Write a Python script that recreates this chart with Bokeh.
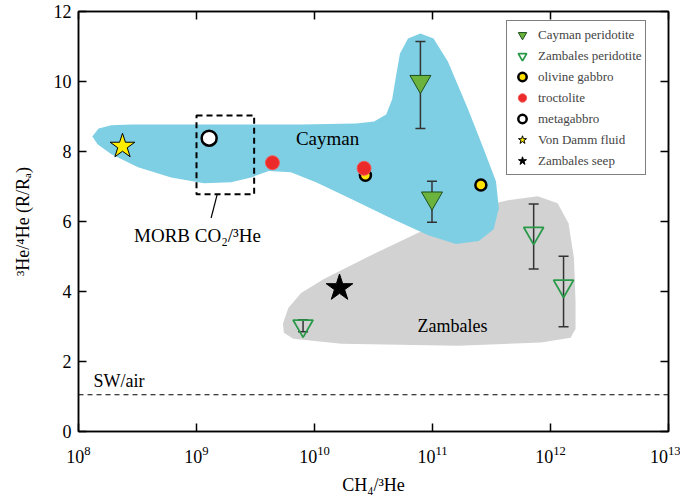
import numpy as np
from bokeh.plotting import figure
from bokeh.models import (Range1d, LinearAxis, LogAxis, FixedTicker, Legend, LegendItem,
                          Label, Span, CustomJSTickFormatter, LogTickFormatter)
from bokeh.embed import file_html
from bokeh.resources import INLINE

# ---------------- data ----------------
x_ticks = [1e8, 1e9, 1e10, 1e11, 1e12, 1e13]
y_ticks = [0, 2, 4, 6, 8, 10, 12]

cay_perid_x = [7.9e10, 9.9e10]
cay_perid_y = [10.0, 6.67]
cay_perid_lo = [8.66, 5.98]
cay_perid_hi = [11.14, 7.15]

zam_perid_x = [8.0e9, 7.2e11, 1.29e12]
zam_perid_y = [3.02, 5.67, 4.16]
zam_perid_lo = [2.85, 4.64, 2.99]
zam_perid_hi = [3.19, 6.50, 5.01]

ol_gabbro_x = [2.7e10, 2.57e11]
ol_gabbro_y = [7.32, 7.04]

troct_x = [4.4e9, 2.63e10]
troct_y = [7.68, 7.52]

metagabbro_x = [1.28e9]
metagabbro_y = [8.38]

vondamm_x = [2.36e8]
vondamm_y = [8.15]

zam_seep_x = [1.63e10]
zam_seep_y = [4.10]

sw_air = 1.05

morb_box_x = [1.0e9, 3.08e9]
morb_box_y = [6.78, 9.03]
morb_leader_x = [1.5e9, 1.33e9]
morb_leader_y = [6.78, 6.10]

cayman_field_x = [1.31e8, 1.48e8, 1.9e8, 2.8e8, 1.1e9, 7.7e9, 2.25e10, 3.2e10, 4.05e10,
                  4.55e10, 4.9e10, 5.3e10, 6.2e10, 7.9e10, 1.02e11, 1.35e11, 1.99e11,
                  2.7e11, 3.45e11, 3.65e11, 3.3e11, 2.47e11, 1.58e11, 9.2e10, 4.4e10,
                  2.05e10, 1.03e10, 6.3e9, 4.1e9, 2.9e9, 1.96e9, 1.16e9, 6.1e8, 3.2e8,
                  1.9e8, 1.45e8]
cayman_field_y = [8.43, 8.66, 8.75, 8.77, 8.77, 8.77, 8.80, 8.86, 9.06,
                  9.49, 10.14, 10.80, 11.23, 11.37, 11.23, 10.57, 9.23,
                  8.09, 7.15, 6.38, 5.78, 5.44, 5.36, 5.61, 6.10,
                  6.64, 7.12, 7.41, 7.44, 7.26, 7.12, 7.09, 7.26, 7.55,
                  7.92, 8.21]

zambales_field_x = [5.4e9, 6.0e9, 7.7e9, 1.2e10, 3.17e10, 8.4e10, 2.24e11, 4.36e11,
                    7.8e11, 1.15e12, 1.42e12, 1.58e12, 1.63e12, 1.63e12, 1.48e12,
                    8.3e11, 1.64e11, 1.69e10, 6.6e9, 5.5e9]
zambales_field_y = [3.08, 3.53, 3.96, 4.36, 5.07, 5.75, 6.38, 6.61,
                    6.72, 6.52, 5.95, 4.96, 3.73, 2.93, 2.68,
                    2.54, 2.45, 2.51, 2.65, 2.82]

FONT = "Liberation Serif"

p = figure(width=680, height=500, x_axis_type="log",
           x_range=Range1d(1e8, 1e13), y_range=Range1d(0, 12),
           output_backend="svg", toolbar_location=None,
           min_border_left=78, min_border_right=12, min_border_top=11, min_border_bottom=69)
p.grid.visible = False
p.outline_line_color = "black"
p.outline_line_width = 1.5
p.background_fill_color = "white"

blank = CustomJSTickFormatter(code="return '';")

def style_axis(ax, show_labels):
    ax.axis_line_width = 1.5
    ax.axis_line_color = "black"
    ax.major_tick_line_width = 1.5
    ax.major_tick_line_color = "black"
    ax.major_tick_in = 8
    ax.major_tick_out = 0
    ax.minor_tick_line_color = None
    ax.major_label_text_font = FONT
    ax.major_label_text_color = "black"
    ax.major_label_text_font_size = "18px"
    if not show_labels:
        ax.formatter = blank
        ax.major_label_standoff = 0

p.xaxis.ticker = FixedTicker(ticks=x_ticks)
p.xaxis.formatter = LogTickFormatter()
p.yaxis.ticker = FixedTicker(ticks=y_ticks)
style_axis(p.xaxis[0], True)
style_axis(p.yaxis[0], True)
p.xaxis.major_label_standoff = 14
p.yaxis.major_label_standoff = 7
for ax, text, standoff in [(p.xaxis[0], "CH₄/³He", 9), (p.yaxis[0], "³He/⁴He (R/Rₐ)", 18)]:
    ax.axis_label = text
    ax.axis_label_text_font = FONT
    ax.axis_label_text_font_size = "18px"
    ax.axis_label_text_font_style = "normal"
    ax.axis_label_text_color = "black"
    ax.axis_label_standoff = standoff

right_ax = LinearAxis(ticker=FixedTicker(ticks=y_ticks))
style_axis(right_ax, False)
p.add_layout(right_ax, "right")
top_ax = LogAxis(ticker=FixedTicker(ticks=x_ticks))
style_axis(top_ax, False)
p.add_layout(top_ax, "above")

# fields
p.patch(zambales_field_x, zambales_field_y, fill_color="#d2d2d2", line_color=None)
p.patch(cayman_field_x, cayman_field_y, fill_color="#7ecfe4", line_color=None)

# SW/air line
p.add_layout(Span(location=sw_air, dimension="width", line_color="black",
                  line_width=1.2, line_dash="5 4"))

# MORB box and leader
p.quad(left=[morb_box_x[0]], right=[morb_box_x[1]], bottom=[morb_box_y[0]], top=[morb_box_y[1]],
       fill_alpha=0, line_color="black", line_width=2, line_dash="6 4")
p.line(morb_leader_x, morb_leader_y, line_color="black", line_width=1.2)

# error bars
ebc = "#333333"
p.segment(x0=cay_perid_x, y0=cay_perid_lo, x1=cay_perid_x, y1=cay_perid_hi, line_color=ebc, line_width=1.5)
p.scatter(cay_perid_x + cay_perid_x, cay_perid_lo + cay_perid_hi, marker="dash", size=10,
          line_color=ebc, line_width=1.5)
p.segment(x0=zam_perid_x, y0=zam_perid_lo, x1=zam_perid_x, y1=zam_perid_hi, line_color=ebc, line_width=1.5)
p.scatter(zam_perid_x + zam_perid_x, zam_perid_lo + zam_perid_hi, marker="dash", size=10,
          line_color=ebc, line_width=1.5)

# markers
r_cp = p.scatter(cay_perid_x, cay_perid_y, marker="inverted_triangle", size=21,
                 fill_color="#6cb33e", line_color="#1d4f1d", line_width=1)
r_zp = p.scatter(zam_perid_x, zam_perid_y, marker="inverted_triangle", size=20,
                 fill_alpha=0, line_color="#2a9a4a", line_width=1.8)
r_og = p.scatter(ol_gabbro_x, ol_gabbro_y, marker="circle", size=11,
                 fill_color="#ffe100", line_color="black", line_width=2.5)
r_tr = p.scatter(troct_x, troct_y, marker="circle", size=14,
                 fill_color="#ec2a2a", line_color="#f25a5a", line_width=1)
r_mg = p.scatter(metagabbro_x, metagabbro_y, marker="circle", size=15,
                 fill_color="white", line_color="black", line_width=2.5)
r_vd = p.scatter(vondamm_x, vondamm_y, marker="star", size=26,
                 fill_color="#ffee00", line_color="black", line_width=1)
r_zs = p.scatter(zam_seep_x, zam_seep_y, marker="star", size=28,
                 fill_color="black", line_color="black", line_width=1)

# text annotations
def lab(x, y, text, align="left", baseline="middle", size="18px"):
    p.add_layout(Label(x=x, y=y, text=text, text_font=FONT, text_font_size=size,
                       text_align=align, text_baseline=baseline, text_color="black"))

lab(1.29e10, 8.38, "Cayman", align="center", size="19px")
lab(1.48e11, 3.02, "Zambales", align="center")
lab(1.34e8, 1.45, "SW/air", align="left")
lab(1.02e9, 5.6, "MORB CO₂/³He", align="center", size="19px")

# legend
legend = Legend(items=[
    LegendItem(label="Cayman peridotite", renderers=[r_cp]),
    LegendItem(label="Zambales peridotite", renderers=[r_zp]),
    LegendItem(label="olivine gabbro", renderers=[r_og]),
    LegendItem(label="troctolite", renderers=[r_tr]),
    LegendItem(label="metagabbro", renderers=[r_mg]),
    LegendItem(label="Von Damm fluid", renderers=[r_vd]),
    LegendItem(label="Zambales seep", renderers=[r_zs]),
], location=(428, 256))
legend.label_text_font = FONT
legend.label_text_font_size = "13px"
legend.glyph_width = 24
legend.glyph_height = 21
legend.label_height = 21
legend.spacing = 0
legend.padding = 3
legend.label_standoff = 4
legend.border_line_color = "black"
legend.border_line_width = 1
legend.background_fill_color = "white"
legend.background_fill_alpha = 1
legend.margin = 0
p.add_layout(legend, "center")

open("out.html", "w").write(file_html(p, INLINE))
